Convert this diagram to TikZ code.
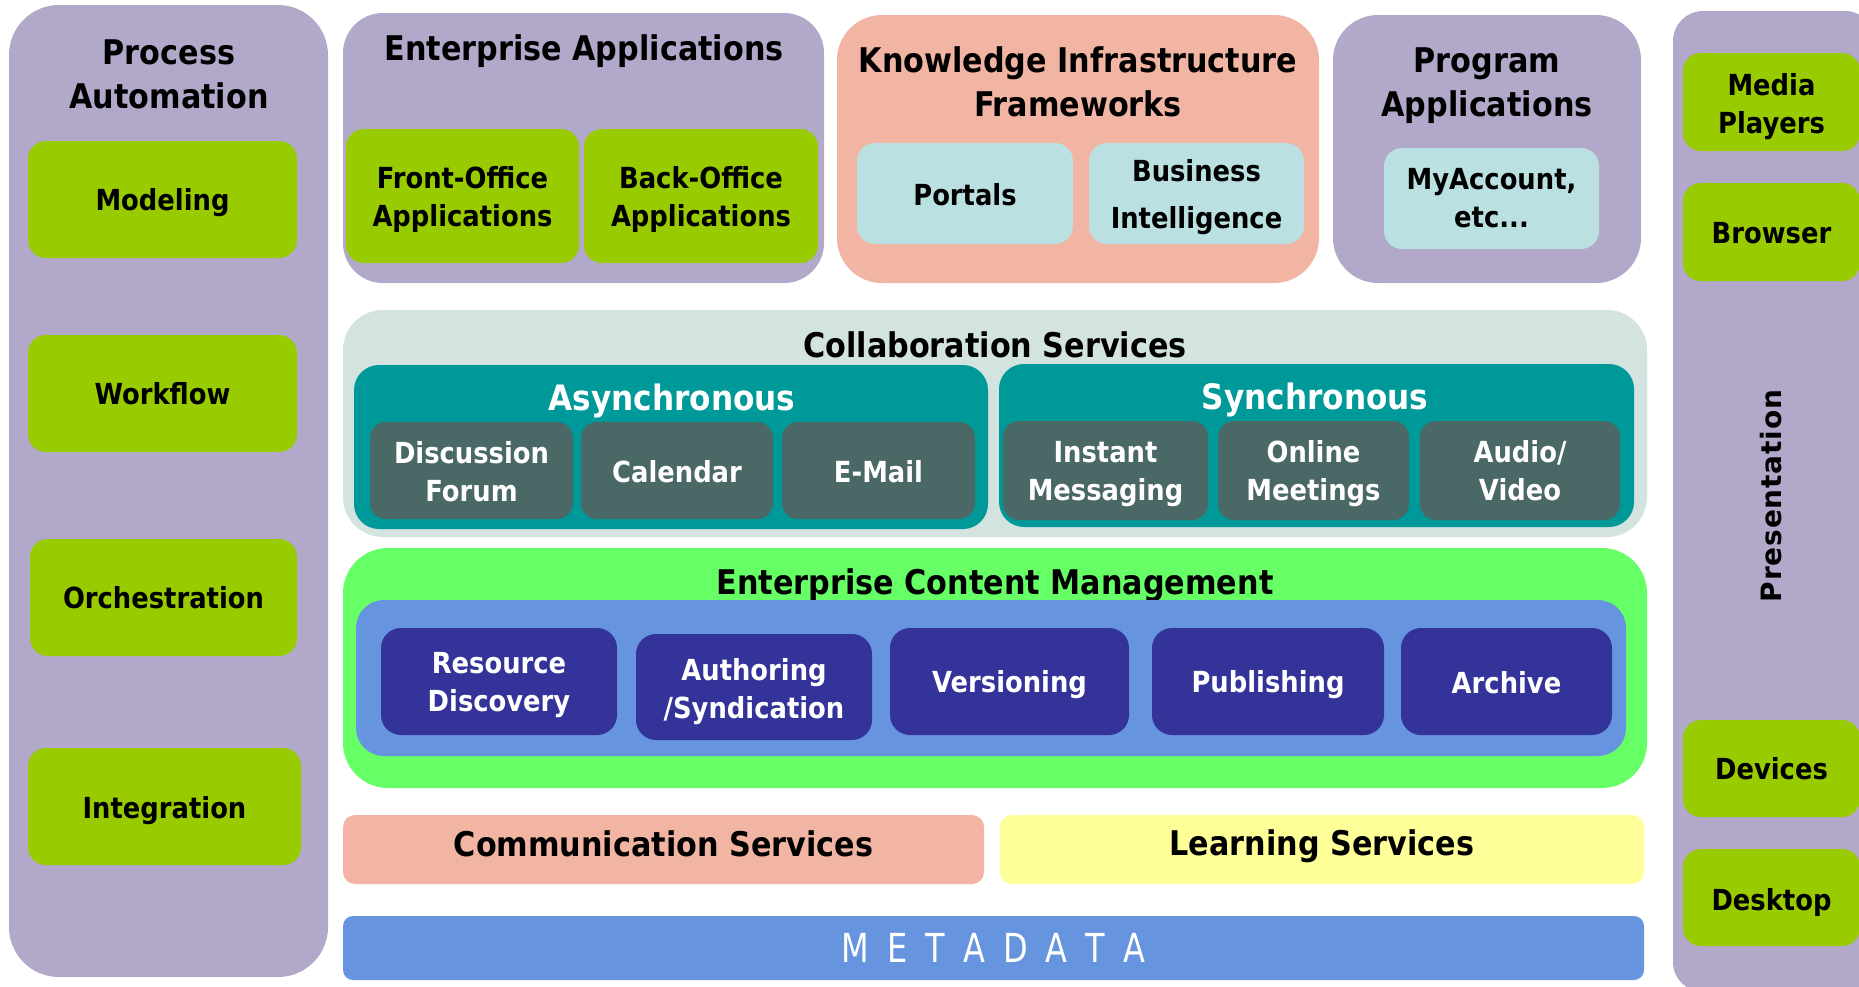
\documentclass[tikz,border=0pt]{standalone}
\usepackage{fontspec}
\setmainfont{DejaVu Sans}[FakeStretch=0.89]
\newfontfamily\presfnt{DejaVu Sans}[LetterSpace=3]
\newfontfamily\metafnt{DejaVu Sans}[FakeStretch=0.8]
\definecolor{lav}{RGB}{178,168,201}
\definecolor{lime}{RGB}{153,204,0}
\definecolor{salmon}{RGB}{242,180,163}
\definecolor{paleblue}{RGB}{186,224,226}
\definecolor{collabbg}{RGB}{211,227,223}
\definecolor{tealc}{RGB}{0,153,153}
\definecolor{slate}{RGB}{74,104,102}
\definecolor{ecmgreen}{RGB}{102,255,102}
\definecolor{midblue}{RGB}{102,148,222}
\definecolor{navy}{RGB}{51,51,153}
\definecolor{paleyellow}{RGB}{255,255,153}
\newcommand\ttlfnt{\fontsize{34}{44}\selectfont\bfseries}
\newcommand\itmfnt{\fontsize{29}{38}\selectfont\bfseries}
\tikzset{
  panel/.style={draw=none, inner sep=0pt, align=center},
  ttl/.style={inner sep=0pt, align=center, font=\ttlfnt, text=black},
  tx/.style={inner sep=0pt, align=center, font=\itmfnt, text=black},
  wtx/.style={tx, text=white},
  gbox/.style={panel, fill=lime, rounded corners=18pt, font=\itmfnt, text=black},
  cbox/.style={panel, fill=paleblue, rounded corners=18pt, font=\itmfnt, text=black},
  sbox/.style={panel, fill=slate, rounded corners=16pt, font=\itmfnt, text=white},
  nbox/.style={panel, fill=navy, rounded corners=20pt, font=\itmfnt, text=white},
}
\begin{document}
\begin{tikzpicture}[x=1pt,y=-1pt]
\useasboundingbox (0,0) rectangle (1859,986);
\clip (0,0) rectangle (1859,986);
\fill[white] (0,0) rectangle (1859,986);

% ---- Process Automation column
\node[panel, fill=lav, rounded corners=50pt, minimum width=319pt, minimum height=972pt] (pa) at (168.5,491) {};
\node[ttl] (patitle) at (169,74.5) {Process\\Automation};
\node[gbox, minimum width=269pt, minimum height=117pt] (model) at (162.5,199.5) {};
\node[tx] (model-t) at ([yshift=-3.5pt]model.center) {Modeling};
\node[gbox, minimum width=269pt, minimum height=117pt] (workflow) at (162.5,393.5) {Workflow};
\node[gbox, minimum width=267pt, minimum height=117pt] (orch) at (163.5,597.5) {Orchestration};
\node[gbox, minimum width=273pt, minimum height=117pt] (integ) at (164.5,806.5) {};
\node[tx] (integ-t) at ([yshift=-4.5pt]integ.center) {Integration};

% ---- Enterprise Applications
\node[panel, fill=lav, rounded corners=40pt, minimum width=481pt, minimum height=270pt] (ea) at (583.5,148) {};
\node[ttl] (eatitle) at (584,51) {Enterprise Applications};
\node[gbox, minimum width=233pt, minimum height=134pt] (front) at (462.5,196) {};
\node[tx] (front-t) at ([yshift=-3.5pt]front.center) {Front-Office\\Applications};
\node[gbox, minimum width=234pt, minimum height=134pt] (back) at (701,196) {};
\node[tx] (back-t) at ([yshift=-3.5pt]back.center) {Back-Office\\Applications};

% ---- Knowledge Infrastructure Frameworks
\node[panel, fill=salmon, rounded corners=45pt, minimum width=482pt, minimum height=268pt] (kif) at (1078,149) {};
\node[ttl] (kiftitle) at (1078,82) {Knowledge Infrastructure\\Frameworks};
\node[cbox, minimum width=216pt, minimum height=101pt] (portals) at (965,193.5) {};
\node[tx] (portals-t) at ([yshift=-1pt]portals.center) {Portals};
\node[cbox, minimum width=215pt, minimum height=101pt] (bi) at (1196.5,193.5) {};
\node[tx, font={\fontsize{29}{47}\selectfont\bfseries}] (bi-t) at ([yshift=-4pt]bi.center) {Business\\Intelligence};

% ---- Program Applications
\node[panel, fill=lav, rounded corners=45pt, minimum width=308pt, minimum height=268pt] (prog) at (1487,149) {};
\node[ttl] (progtitle) at (1487,85.5) {Program\\Applications};
\node[cbox, minimum width=215pt, minimum height=101pt] (myacc) at (1491.5,198.5) {MyAccount,\\etc...};

% ---- Presentation column
\node[panel, fill=lav, rounded corners=30pt, minimum width=202pt, minimum height=981pt] (pres) at (1774,501.5) {};
\node[inner sep=0pt, rotate=90, font={\presfnt\fontsize{28}{30}\selectfont\bfseries}, text=black] (prestitle) at (1771,496) {Presentation};
\node[gbox, minimum width=177pt, minimum height=98pt] (media) at (1771.5,102) {};
\node[tx] (media-t) at ([yshift=-5pt]media.center) {Media\\Players};
\node[gbox, minimum width=177pt, minimum height=98pt] (browser) at (1771.5,232) {};
\node[tx] (browser-t) at ([yshift=-1pt]browser.center) {Browser};
\node[gbox, minimum width=177pt, minimum height=97pt] (devices) at (1771.5,768.5) {Devices};
\node[gbox, minimum width=177pt, minimum height=97pt] (desktop) at (1771.5,897.5) {};
\node[tx] (desktop-t) at ([yshift=-4.5pt]desktop.center) {Desktop};

% ---- Collaboration Services
\node[panel, fill=collabbg, rounded corners=40pt, minimum width=1304pt, minimum height=227pt] (collab) at (995,423.5) {};
\node[ttl] (collabtitle) at (995,344.5) {Collaboration Services};
\node[panel, fill=tealc, rounded corners=25pt, minimum width=634pt, minimum height=164pt] (async) at (671,447) {};
\node[ttl, text=white, font={\fontsize{35}{45}\selectfont\bfseries}] (asynctitle) at (672,401) {Asynchronous};
\node[sbox, minimum width=203pt, minimum height=97pt] (forum) at (471.5,470.5) {};
\node[wtx] (forum-t) at ([yshift=-1.5pt]forum.center) {Discussion\\Forum};
\node[sbox, minimum width=192pt, minimum height=97pt] (calendar) at (677,470.5) {};
\node[wtx] (calendar-t) at ([yshift=-1pt]calendar.center) {Calendar};
\node[sbox, minimum width=193pt, minimum height=97pt] (email) at (878.5,470.5) {};
\node[wtx] (email-t) at ([yshift=-1pt]email.center) {E-Mail};
\node[panel, fill=tealc, rounded corners=25pt, minimum width=635pt, minimum height=163pt] (sync) at (1316.5,445.5) {};
\node[ttl, text=white, font={\fontsize{35}{45}\selectfont\bfseries}] (synctitle) at (1315,399.5) {Synchronous};
\node[sbox, minimum width=205pt, minimum height=99pt] (im) at (1105.5,470.5) {};
\node[wtx] (im-t) at ([yshift=-3.5pt]im.center) {Instant\\Messaging};
\node[sbox, minimum width=191pt, minimum height=99pt] (meet) at (1313.5,470.5) {};
\node[wtx] (meet-t) at ([yshift=-3.5pt]meet.center) {Online\\Meetings};
\node[sbox, minimum width=200pt, minimum height=99pt] (av) at (1520,470.5) {Audio/\\Video};

% ---- Enterprise Content Management
\node[panel, fill=ecmgreen, rounded corners=45pt, minimum width=1304pt, minimum height=240pt] (ecm) at (995,668) {};
\node[ttl] (ecmtitle) at (995,585) {Enterprise Content Management};
\node[panel, fill=midblue, rounded corners=28pt, minimum width=1270pt, minimum height=156pt] (ecmin) at (991,678) {};
\node[nbox, minimum width=236pt, minimum height=107pt] (resdisc) at (499,681.5) {};
\node[wtx] (resdisc-t) at ([yshift=-3.5pt]resdisc.center) {Resource\\Discovery};
\node[nbox, minimum width=236pt, minimum height=106pt] (author) at (754,687) {};
\node[wtx] (author-t) at ([yshift=-5pt]author.center) {Authoring\\/Syndication};
\node[nbox, minimum width=239pt, minimum height=107pt] (version) at (1009.5,681.5) {};
\node[wtx] (version-t) at ([yshift=-3.5pt]version.center) {Versioning};
\node[nbox, minimum width=232pt, minimum height=107pt] (publish) at (1268,681.5) {};
\node[wtx] (publish-t) at ([yshift=-3.5pt]publish.center) {Publishing};
\node[nbox, minimum width=211pt, minimum height=107pt] (archive) at (1506.5,681.5) {};
\node[wtx] (archive-t) at ([yshift=-1pt]archive.center) {Archive};

% ---- Services bars
\node[panel, fill=salmon, rounded corners=12pt, minimum width=641pt, minimum height=69pt] (comm) at (663.5,849.5) {};
\node[ttl] (comm-t) at ([yshift=6pt]comm.center) {Communication Services};
\node[panel, fill=paleyellow, rounded corners=12pt, minimum width=644pt, minimum height=69pt] (learn) at (1322,849.5) {};
\node[ttl] (learn-t) at ([yshift=3.5pt]learn.center) {Learning Services};

% ---- Metadata
\node[panel, fill=midblue, rounded corners=10pt, minimum width=1301pt, minimum height=64pt, text=white, font={\metafnt\fontsize{40}{40}\selectfont}] (meta) at (993.5,948)
  {M\hspace{18pt}E\hspace{18pt}T\hspace{18pt}A\hspace{18pt}D\hspace{18pt}A\hspace{18pt}T\hspace{18pt}A};
\end{tikzpicture}
\end{document}
